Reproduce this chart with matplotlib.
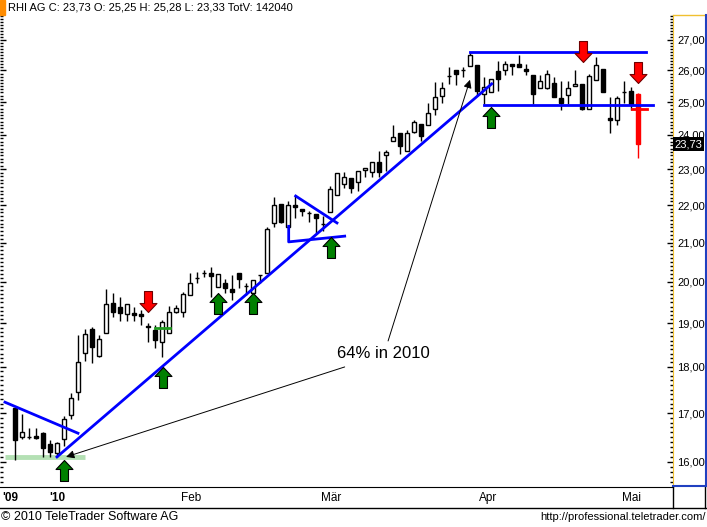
import numpy as np
import matplotlib.pyplot as plt
from matplotlib.path import Path
from matplotlib.lines import Line2D
from matplotlib.patches import Rectangle
from matplotlib.ticker import FixedLocator, FuncFormatter, NullFormatter
import matplotlib.transforms as mtrans

plt.rcParams['font.family'] = ['Liberation Sans', 'DejaVu Sans']

# daily candles, 22 Dec 2009 .. 4 May 2010 (trading-day index)
opens = [17.10, 16.51, 16.50, 16.53, 16.59, 16.36, 16.18, 16.46, 16.96, 17.45,
         18.31, 18.87, 18.25, 18.78, 19.49, 19.39, 19.22, 19.25, 19.22, 18.93,
         18.84, 18.57, 18.78, 19.27, 19.27, 19.68, 20.10, 20.22, 20.22, 19.88,
         19.98, 19.83, 20.22, 19.90, 19.73, 20.17, 20.22, 21.52, 22.04, 21.42,
         22.00, 21.90, 21.78, 21.75, 21.50, 21.81, 22.28, 22.59, 22.75, 22.65,
         22.98, 22.92, 23.21, 23.40, 23.82, 24.06, 23.54, 24.10, 24.33, 24.30,
         24.79, 25.20, 25.82, 26.00, 26.00, 26.14, 26.18, 25.25, 25.30, 25.97,
         26.00, 26.20, 26.20, 26.05, 25.85, 25.44, 25.44, 25.60, 25.13, 25.22,
         25.50, 25.57, 24.79, 25.70, 26.05, 24.50, 24.45, 25.30, 25.33, 25.25]
highs = [17.10, 16.99, 16.68, 16.68, 16.60, 16.44, 16.40, 16.94, 17.43, 18.73,
         18.87, 18.92, 18.73, 19.83, 19.73, 19.63, 19.46, 19.39, 19.32, 19.00,
         18.96, 19.08, 19.41, 19.44, 19.75, 20.22, 20.25, 20.30, 20.38, 20.20,
         20.08, 20.17, 20.22, 19.98, 20.05, 20.17, 21.40, 22.22, 22.04, 22.10,
         22.27, 21.90, 21.85, 21.75, 21.70, 22.53, 22.89, 22.92, 22.75, 22.95,
         23.05, 23.21, 23.54, 23.55, 24.30, 24.06, 24.16, 24.45, 24.33, 24.98,
         25.63, 25.63, 26.11, 26.00, 26.11, 26.60, 26.18, 25.79, 25.73, 26.30,
         26.30, 26.20, 26.50, 26.20, 25.85, 25.85, 26.00, 25.79, 25.67, 25.67,
         26.00, 25.57, 25.88, 26.43, 26.05, 25.16, 25.20, 25.67, 25.47, 25.28]
lows = [16.04, 16.46, 16.46, 16.46, 16.10, 16.10, 16.10, 16.32, 16.88, 17.28,
        18.13, 18.08, 18.23, 18.78, 19.15, 19.06, 19.06, 19.06, 18.96, 18.57,
        18.43, 18.23, 18.78, 19.25, 19.15, 19.68, 19.98, 20.13, 19.63, 19.88,
        19.73, 19.56, 19.85, 19.68, 19.68, 19.98, 20.22, 21.40, 21.52, 21.42,
        21.66, 21.70, 21.55, 21.25, 21.30, 21.81, 22.28, 22.48, 22.34, 22.40,
        22.78, 22.78, 22.78, 22.95, 23.82, 23.45, 23.54, 24.06, 23.82, 24.30,
        24.60, 24.98, 25.57, 25.54, 25.80, 26.14, 25.20, 24.94, 25.30, 25.33,
        25.85, 25.85, 26.10, 25.85, 24.94, 25.44, 25.40, 25.16, 24.75, 24.94,
        25.50, 24.75, 24.79, 25.70, 25.30, 24.06, 24.30, 24.98, 24.75, 23.33]
closes = [16.45, 16.60, 16.51, 16.49, 16.28, 16.20, 16.38, 16.88, 17.32, 18.11,
          18.76, 18.45, 18.64, 19.46, 19.27, 19.25, 19.46, 19.20, 19.18, 18.92,
          18.61, 19.03, 19.27, 19.37, 19.71, 19.98, 20.10, 20.22, 20.15, 20.20,
          19.85, 19.75, 20.08, 19.90, 20.05, 20.17, 21.36, 22.00, 21.55, 22.00,
          21.95, 21.85, 21.78, 21.66, 21.50, 22.45, 22.89, 22.78, 22.48, 22.95,
          23.05, 23.21, 22.92, 23.50, 23.95, 23.68, 24.06, 24.40, 23.97, 24.66,
          25.16, 25.44, 25.82, 25.90, 26.00, 26.50, 25.35, 25.47, 25.73, 25.73,
          26.20, 26.15, 26.10, 25.97, 25.25, 25.67, 25.90, 25.16, 24.98, 25.44,
          25.57, 24.79, 25.82, 26.18, 25.30, 24.45, 25.13, 25.30, 24.94, 23.73]

date_labels = ["'09", "'10", "Feb", "Mär", "Apr", "Mai"]
date_pos = [-0.7, 6.1, 25.1, 45.1, 67.6, 88.1]

price_ticks = [16, 17, 18, 19, 20, 21, 22, 23, 24, 25, 26, 27]

# drawn trendlines (index, price)
up_trend = ([6.0, 68.1], [16.10, 25.57])
down_trend = ([-1.43, 9.0], [17.23, 16.58])
support_band = ([-1.43, 10.0], [16.09, 16.09])
tri_upper = ([40.1, 46.0], [22.25, 21.52])
tri_lower = ([39.1, 39.1, 47.1], [21.43, 21.02, 21.17])
range_top = ([65.0, 90.1], [26.61, 26.61])
range_bottom = ([67.0, 91.1], [24.91, 24.91])

green_arrows_x = [7.0, 21.1, 29.0, 34.0, 45.1, 68.0]
green_arrows_y = [16.04, 18.0, 19.73, 19.73, 21.15, 24.85]
red_arrows_x = [19.0, 81.1, 89.0]
red_arrows_y = [19.27, 26.27, 25.6]

W, H = 707, 527
fig = plt.figure(figsize=(W / 100, H / 100), dpi=100)
ax = fig.add_axes([0, (H - 487) / H, 673 / W, 472 / H])

x = np.arange(len(opens))
o = np.array(opens); c = np.array(closes)
hi = np.array(highs); lo = np.array(lows)
last = len(x) - 1

# wicks then bodies
wick_col = ['black'] * last + ['red']
ax.vlines(x, lo, hi, colors=wick_col, lw=1, zorder=2)
body_face = np.where(c >= o, 'white', 'black').tolist()
body_face[last] = 'red'
edge = ['black'] * last + ['red']
ax.bar(x, np.abs(c - o), bottom=np.minimum(o, c), width=0.65,
       color=body_face, edgecolor=edge, linewidth=1, zorder=3)

# red close mark on last day
ax.plot([88.1, 90.3], [24.8, 24.8], color='red', lw=2, zorder=4)
# small green line in Feb
ax.plot([20.0, 22.1], [18.89, 18.89], color='#1f9a1f', lw=2, zorder=4)

ax.plot(*support_band, color='#b4e0b4', lw=3.5, zorder=1, solid_capstyle='butt')
for xs, ys in [up_trend, down_trend, tri_upper, tri_lower, range_top, range_bottom]:
    ax.plot(xs, ys, color='#0000ff', lw=2, zorder=5)

# arrows as custom markers (tip at the point)
up_path = Path([(0, 0), (8.5, -9), (4, -9), (4, -21), (-4, -21), (-4, -9), (-8.5, -9), (0, 0)],
               [Path.MOVETO] + [Path.LINETO] * 6 + [Path.CLOSEPOLY])
down_path = Path([(vx, -vy) for vx, vy in up_path.vertices], up_path.codes)
ax.plot(green_arrows_x, green_arrows_y, ls='none', marker=up_path, markersize=30.2,
        markerfacecolor='#008000', markeredgecolor='black', mew=0.8, zorder=6)
ax.plot(red_arrows_x, red_arrows_y, ls='none', marker=down_path, markersize=30.2,
        markerfacecolor='#ff0000', markeredgecolor='#700000', mew=0.8, zorder=6)

# annotation
ax.text(52.6, 18.31, '64% in 2010', fontsize=12, ha='center', va='center', zorder=7)
ax.annotate('', xy=(7.3, 16.10), xytext=(47.1, 18.0),
            arrowprops=dict(arrowstyle='-|>', color='black', lw=0.7, mutation_scale=12,
                            shrinkA=0, shrinkB=0), zorder=7)
ax.annotate('', xy=(65.0, 25.7), xytext=(53.3, 18.59),
            arrowprops=dict(arrowstyle='-|>', color='black', lw=0.7, mutation_scale=12,
                            shrinkA=0, shrinkB=0), zorder=7)

ax.set_yscale('log')
ax.set_ylim(15.51, 27.85)
ax.set_xlim(-2.14, 94.0)
ax.yaxis.set_major_locator(FixedLocator(price_ticks))
ax.yaxis.set_major_formatter(FuncFormatter(lambda v, p: f'{v:.2f}'.replace('.', ',')))
ax.yaxis.set_minor_locator(FixedLocator(np.arange(15.6, 27.85, 0.1)))
ax.yaxis.set_minor_formatter(NullFormatter())
ax.tick_params(axis='y', which='both', left=True, right=True, labelleft=False,
               labelright=True, direction='in', labelsize=8, pad=3)
ax.tick_params(axis='y', which='major', length=4, width=1)
ax.tick_params(axis='y', which='minor', length=2, width=1)
ax.set_xticks([])
for s in ['top', 'left']:
    ax.spines[s].set_visible(False)
ax.spines['bottom'].set_color('black')
ax.spines['right'].set_color('#f0c030')

# current price label
ax.text(1.002, 23.73, '23,73', transform=mtrans.blended_transform_factory(ax.transAxes, ax.transData),
        color='white', fontsize=8, va='center', ha='left', zorder=10,
        bbox=dict(facecolor='black', edgecolor='none', pad=1.2))

# date labels
for lab, pos in zip(date_labels, date_pos):
    ax.text(pos, -0.023, lab, transform=ax.get_xaxis_transform(), ha='center', va='center',
            fontsize=8.5, fontweight='bold' if lab.startswith("'") else 'normal')


def fline(x0, y0, x1, y1, color='black', lw=1):
    fig.add_artist(Line2D([x0 / W, x1 / W], [1 - y0 / H, 1 - y1 / H],
                          transform=fig.transFigure, color=color, lw=lw))


fline(0, 508, W, 508)
fline(673, 487, 673, 508)
fline(705, 487, 705, 508)
fline(673, 15, 705, 15, color='#f0c030')
fline(705.5, 15, 705.5, 486, color='#2040c0', lw=1.5)
fline(673, 486, 706, 486, color='#2040c0', lw=1.5)

# header
fig.add_artist(Rectangle((0, 1 - 15 / H), 5 / W, 15 / H, transform=fig.transFigure,
                         color='#ff8c00'))
fig.text(8 / W, 1 - 8 / H, 'RHI AG C: 23,73 O: 25,25 H: 25,28 L: 23,33 TotV: 142040',
         fontsize=8, va='center', ha='left')

# footer
fig.text(1 / W, 1 - 517 / H, '\u00a9 2010 TeleTrader Software AG', fontsize=9, va='center')
fig.text(706 / W, 1 - 517 / H, 'http://professional.teletrader.com/', fontsize=8,
         va='center', ha='right')

fig.savefig('out.png', dpi=100)
